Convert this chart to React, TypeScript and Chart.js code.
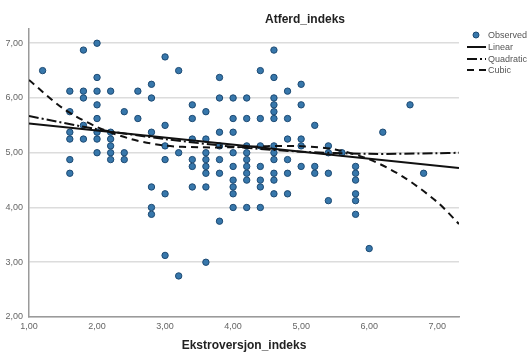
import React, { useEffect, useRef } from "react";
import { Chart, registerables } from "chart.js";
Chart.register(...registerables);

const chartTitle = "Atferd_indeks";
const xAxisTitle = "Ekstroversjon_indeks";
const xTicks = [1, 2, 3, 4, 5, 6, 7];
const yTicks = [2, 3, 4, 5, 6, 7];
const seriesLabels = ["Observed", "Linear", "Quadratic", "Cubic"];

const obsX = [1.2, 1.6, 1.8, 2.0, 2.2, 2.4, 2.6, 2.8, 3.0, 3.2, 3.4, 3.6, 3.8, 4.0, 4.2, 4.4, 4.6, 4.8, 5.0, 5.2, 5.4, 5.6, 5.8, 6.0, 6.2, 6.6, 6.8];
const obsY = [
  [6.5],
  [6.125, 5.75, 5.375, 5.25, 4.875, 4.625],
  [6.875, 6.125, 6.0, 5.5, 5.25],
  [7.0, 6.375, 6.125, 5.875, 5.625, 5.375, 5.25, 5.0],
  [6.125, 5.375, 5.25, 5.125, 5.0, 4.875],
  [5.75, 5.0, 4.875],
  [6.125, 5.625],
  [6.25, 6.0, 5.375, 4.375, 4.0, 3.875],
  [6.75, 5.5, 5.125, 4.875, 4.25, 3.125],
  [6.5, 5.0, 2.75],
  [5.875, 5.625, 5.25, 4.875, 4.75, 4.375],
  [5.75, 5.25, 5.0, 4.875, 4.75, 4.625, 4.375, 3.0],
  [6.375, 6.0, 5.375, 5.125, 4.875, 4.625, 3.75],
  [6.0, 5.625, 5.375, 5.0, 4.75, 4.5, 4.375, 4.25, 4.0],
  [6.0, 5.625, 5.125, 5.0, 4.875, 4.75, 4.625, 4.5, 4.0],
  [6.5, 5.625, 5.125, 4.75, 4.5, 4.375, 4.0],
  [6.875, 6.375, 6.0, 5.875, 5.75, 5.625, 5.125, 5.0, 4.875, 4.625, 4.5, 4.25],
  [6.125, 5.625, 5.25, 4.875, 4.625, 4.25],
  [6.25, 5.875, 5.25, 5.125, 4.75],
  [5.5, 4.75, 4.625],
  [5.125, 5.0, 4.625, 4.125],
  [5.0],
  [4.75, 4.625, 4.5, 4.25, 4.125, 3.875],
  [3.25],
  [5.375],
  [5.875],
  [4.625],
];

const linX = [1.0, 7.32];
const linY = [5.535, 4.72];
const quadX = [1, 2, 3, 4, 5, 6, 7, 7.32];
const quadY = [5.67, 5.43, 5.25, 5.11, 5.02, 4.98, 4.99, 5.0];
const cubicX = [1, 1.5, 2, 2.5, 3, 3.5, 4, 4.5, 5, 5.5, 6, 6.5, 7, 7.32];
const cubicY = [6.33, 5.81, 5.47, 5.25, 5.13, 5.1, 5.1, 5.12, 5.12, 5.06, 4.88, 4.56, 4.1, 3.7];

const FONT = 'Arial, "Liberation Sans", sans-serif';
const fmt = (v: number) => v.toFixed(2).replace(".", ",");
const zip = (xs: number[], ys: number[]) => xs.map((x, i) => ({ x, y: ys[i] }));

const POINT_FILL = "#3777ab";
const POINT_BORDER = "#1d4a73";
const quadDash = [10, 3, 2, 3];
const cubicDash = [7, 5];

const overlayPlugin = {
  id: "overlay",
  afterDraw(chart: any) {
    const ctx = chart.ctx as CanvasRenderingContext2D;
    const ca = chart.chartArea;
    ctx.save();
    ctx.fillStyle = "#222";
    ctx.font = `bold 12px ${FONT}`;
    ctx.textAlign = "center";
    ctx.textBaseline = "middle";
    ctx.fillText(chartTitle, 305, 20);
    ctx.fillText(xAxisTitle, (ca.left + ca.right) / 2, 346);

    // legend
    ctx.font = `9px ${FONT}`;
    ctx.textAlign = "left";
    ctx.fillStyle = "#555";
    const rows = [35, 47, 59, 70];
    const dashes: number[][] = [[], [], quadDash, cubicDash];
    rows.forEach((y, i) => {
      if (i === 0) {
        ctx.beginPath();
        ctx.arc(476, y, 3, 0, Math.PI * 2);
        ctx.fillStyle = POINT_FILL;
        ctx.fill();
        ctx.lineWidth = 1;
        ctx.strokeStyle = POINT_BORDER;
        ctx.stroke();
      } else {
        ctx.beginPath();
        ctx.setLineDash(dashes[i]);
        ctx.lineWidth = 2;
        ctx.strokeStyle = "#111";
        ctx.moveTo(467, y);
        ctx.lineTo(486, y);
        ctx.stroke();
        ctx.setLineDash([]);
      }
      ctx.fillStyle = "#555";
      ctx.fillText(seriesLabels[i], 488, y + 0.5);
    });
    ctx.restore();
  },
};

export default function App() {
  const ref = useRef<HTMLCanvasElement>(null);
  useEffect(() => {
    if (!ref.current) return;
    const obsPoints: { x: number; y: number }[] = [];
    obsX.forEach((x, i) => obsY[i].forEach((y) => obsPoints.push({ x, y })));
    const chart = new Chart(ref.current, {
      type: "scatter",
      data: {
        datasets: [
          {
            label: seriesLabels[0],
            data: obsPoints,
            backgroundColor: POINT_FILL,
            borderColor: POINT_BORDER,
            borderWidth: 1,
            pointRadius: 3.2,
            order: 10,
          } as any,
          {
            label: seriesLabels[1],
            data: zip(linX, linY),
            showLine: true,
            borderColor: "#111",
            borderWidth: 2,
            pointRadius: 0,
            order: 1,
          },
          {
            label: seriesLabels[2],
            data: zip(quadX, quadY),
            showLine: true,
            borderColor: "#111",
            borderWidth: 2,
            borderDash: quadDash,
            pointRadius: 0,
            tension: 0.3,
            order: 1,
          },
          {
            label: seriesLabels[3],
            data: zip(cubicX, cubicY),
            showLine: true,
            borderColor: "#111",
            borderWidth: 2,
            borderDash: cubicDash,
            pointRadius: 0,
            tension: 0.3,
            order: 1,
          },
        ],
      },
      options: {
        responsive: false,
        animation: false,
        layout: { padding: { left: 0, right: 70, top: 29, bottom: 0 } },
        plugins: { legend: { display: false }, tooltip: { enabled: false }, title: { display: false } },
        scales: {
          x: {
            type: "linear",
            min: 1,
            max: 7.32,
            afterFit: (s: any) => {
              s.height = 39;
            },
            afterBuildTicks: (s: any) => {
              s.ticks = xTicks.map((v) => ({ value: v }));
            },
            grid: { display: false, drawTicks: false },
            border: { display: true, color: "#9a9a9a", width: 1.5 },
            ticks: {
              padding: 4,
              color: "#666",
              font: { family: FONT, size: 9 },
              maxRotation: 0,
              callback: (v: any) => fmt(Number(v)),
            },
          },
          y: {
            type: "linear",
            min: 2,
            max: 7.26,
            afterFit: (s: any) => {
              s.width = 29;
            },
            afterBuildTicks: (s: any) => {
              s.ticks = yTicks.map((v) => ({ value: v }));
            },
            grid: { color: "#dcdcdc", lineWidth: 1.5, drawTicks: false },
            border: { display: true, color: "#9a9a9a", width: 1.5 },
            ticks: {
              padding: 6,
              color: "#666",
              font: { family: FONT, size: 9 },
              callback: (v: any) => fmt(Number(v)),
            },
          },
        },
      },
      plugins: [overlayPlugin],
    });
    return () => chart.destroy();
  }, []);
  return (
    <div style={{ position: "absolute", left: 0, top: 0, width: 529, height: 356, background: "#fff" }}>
      <canvas ref={ref} width={529} height={356} />
    </div>
  );
}
